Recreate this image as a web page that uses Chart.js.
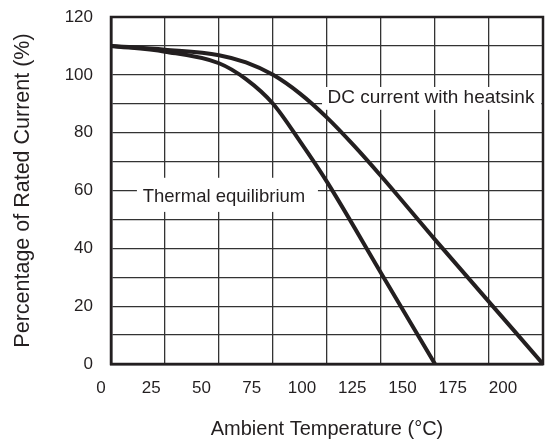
<!DOCTYPE html>
<html>
<head>
<meta charset="utf-8">
<script src="https://cdn.jsdelivr.net/npm/chart.js@4/dist/chart.umd.min.js"></script>
<style>
  html, body { margin: 0; padding: 0; background: #fff; }
  #c { display: block; }
</style>
</head>
<body>
<canvas id="c" width="560" height="441"></canvas>
<script>
  // Derating curves
  var dcTemps = [0, 25, 50, 62.5, 75, 87.5, 100, 112.5, 125, 150, 175, 200];
  var dcValues = [110, 108.7, 106.8, 104.3, 100, 93.5, 85.2, 75.5, 65, 43, 21.5, 0];
  var thermalTemps = [0, 25, 50, 62.5, 75, 87.5, 100, 125, 150];
  var thermalValues = [110, 108, 104, 98.5, 90, 77, 63, 31.5, 0];

  var xTicks = [0, 25, 50, 75, 100, 125, 150, 175, 200];
  var yTicks = [0, 20, 40, 60, 80, 100, 120];

  // The printed x labels sit on a slightly narrower scale than the grid
  var xLabelMin = 4.975, xLabelMax = 219.9;

  // Curve annotations: text, anchor (data units), white box extent (data units)
  var curveLabels = [
    { text: 'DC current with heatsink', size: 19, x: 148.1, y: 92, box: [97.7, 199.2, 95.8, 87.9] },
    { text: 'Thermal equilibrium', size: 18.5, x: 52.3, y: 57.8, box: [12, 95.8, 64.4, 52.6] }
  ];

  var INK = '#231f20';
  var FONT = '"Liberation Sans", Arial, sans-serif';

  function toXY(xs, ys) {
    return xs.map(function (x, i) { return { x: x, y: ys[i] }; });
  }

  var labelPlugin = {
    id: 'curveLabels',
    beforeDatasetsDraw: function (chart) {
      var ctx = chart.ctx, sx = chart.scales.x, sy = chart.scales.y, a = chart.chartArea;
      ctx.save();
      curveLabels.forEach(function (l) {
        var x0 = sx.getPixelForValue(l.box[0]), x1 = sx.getPixelForValue(l.box[1]);
        var y0 = sy.getPixelForValue(l.box[2]), y1 = sy.getPixelForValue(l.box[3]);
        ctx.fillStyle = '#fff';
        ctx.fillRect(x0, y0, x1 - x0, y1 - y0);
        ctx.fillStyle = INK;
        ctx.font = l.size + 'px ' + FONT;
        ctx.textAlign = 'center';
        ctx.textBaseline = 'middle';
        ctx.fillText(l.text, sx.getPixelForValue(l.x), sy.getPixelForValue(l.y));
      });
      // full frame round the plot
      ctx.strokeStyle = INK;
      ctx.lineWidth = 2.5;
      ctx.strokeRect(a.left, a.top, a.right - a.left, a.bottom - a.top);
      ctx.restore();
    }
  };

  var lineStyle = {
    xAxisID: 'x',
    yAxisID: 'y',
    borderColor: INK,
    borderWidth: 4,
    pointRadius: 0,
    fill: false,
    cubicInterpolationMode: 'monotone'
  };

  new Chart(document.getElementById('c').getContext('2d'), {
    type: 'line',
    data: {
      datasets: [
        Object.assign({ label: 'DC current with heatsink', data: toXY(dcTemps, dcValues) }, lineStyle),
        Object.assign({ label: 'Thermal equilibrium', data: toXY(thermalTemps, thermalValues) }, lineStyle)
      ]
    },
    options: {
      responsive: false,
      animation: false,
      layout: { padding: { top: 17, right: 17, left: 0, bottom: 0 } },
      plugins: {
        legend: { display: false },
        tooltip: { enabled: false }
      },
      scales: {
        x: {
          type: 'linear',
          position: 'bottom',
          weight: 0,
          min: 0, max: 200,
          afterBuildTicks: function (s) { s.ticks = xTicks.map(function (v) { return { value: v }; }); },
          afterFit: function (s) { s.height = 0; },
          grid: { color: '#333', lineWidth: 1.3, drawTicks: false },
          border: { color: INK, width: 2.5 },
          ticks: { display: false }
        },
        xl: {
          type: 'linear',
          position: 'bottom',
          weight: 1,
          min: xLabelMin, max: xLabelMax,
          afterBuildTicks: function (s) { s.ticks = xTicks.map(function (v) { return { value: v }; }); },
          afterFit: function (s) { s.height = 77; s.paddingLeft = 0; s.paddingRight = 0; },
          grid: { display: false, drawTicks: false },
          border: { display: false },
          ticks: { color: INK, font: { family: FONT, size: 17 }, padding: 14, autoSkip: false, maxRotation: 0 },
          title: { display: true, text: 'Ambient Temperature (°C)', color: INK, font: { family: FONT, size: 20 }, padding: { top: 0, bottom: 0 } }
        },
        y: {
          type: 'linear',
          min: 0, max: 120,
          afterBuildTicks: function (s) {
            var t = [];
            for (var v = 0; v <= 120; v += 10) t.push({ value: v });
            s.ticks = t;
          },
          afterFit: function (s) { s.width = 111; s.paddingTop = 0; s.paddingBottom = 0; },
          grid: { color: '#333', lineWidth: 1.3, drawTicks: false },
          border: { color: INK, width: 2.5 },
          ticks: {
            color: INK, font: { family: FONT, size: 17 }, padding: 18, autoSkip: false,
            callback: function (v) { return yTicks.indexOf(v) >= 0 ? String(v) : ''; }
          },
          title: { display: true, text: 'Percentage of Rated Current (%)', color: INK, font: { family: FONT, size: 21.5 }, padding: { top: 10, bottom: 0 } }
        }
      }
    },
    plugins: [labelPlugin]
  });
</script>
</body>
</html>
